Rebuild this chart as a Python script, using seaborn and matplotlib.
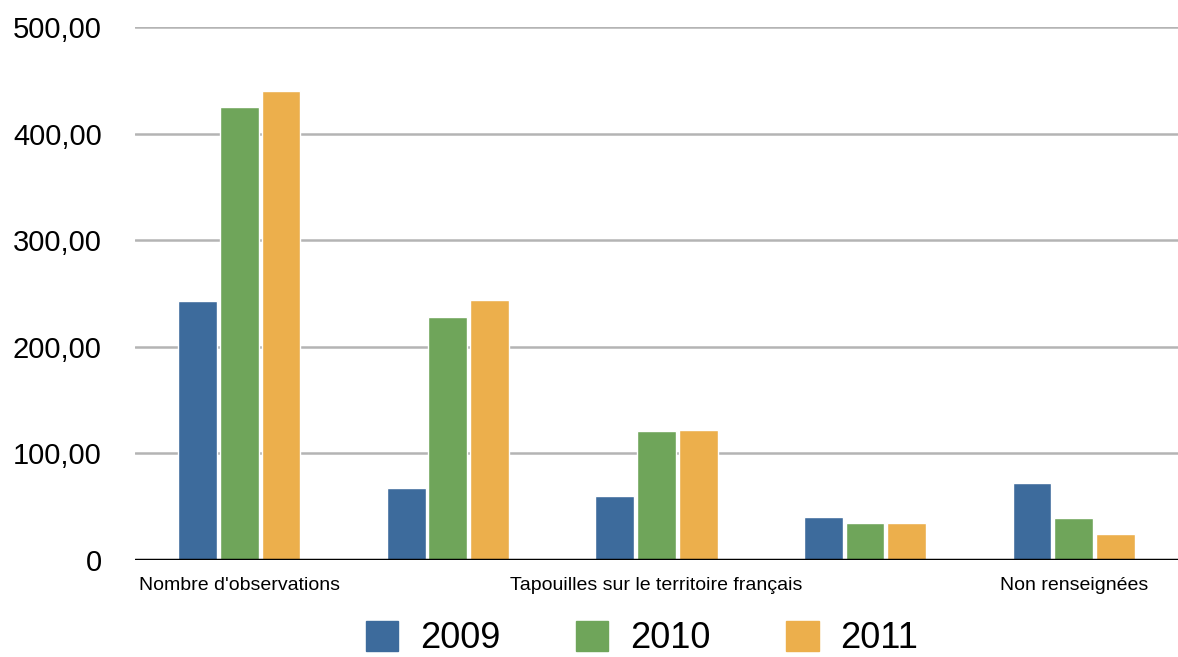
import pandas as pd
import seaborn as sns
import matplotlib.pyplot as plt
from matplotlib.ticker import FuncFormatter

# valeurs
groups = ["g1", "g2", "g3", "g4", "g5"]
tick_labels = ["Nombre d'observations", "", "Tapouilles sur le territoire français", "", "Non renseignées"]
years = ["2009", "2010", "2011"]
v2009 = [243, 68, 60, 40, 72]
v2010 = [425, 228, 121, 35, 39]
v2011 = [440, 244, 122, 35, 24]
colors = ["#3d6b9c", "#6fa55a", "#ecaf4c"]

rows = []
for year, vals in zip(years, [v2009, v2010, v2011]):
    for g, v in zip(groups, vals):
        rows.append({"groupe": g, "annee": year, "valeur": v})
df = pd.DataFrame(rows)

sns.set_style("white")
plt.rcParams['font.family'] = ['Liberation Sans', 'DejaVu Sans']
plt.rcParams['text.color'] = 'black'
plt.rcParams['xtick.color'] = 'black'
plt.rcParams['ytick.color'] = 'black'

fig = plt.figure(figsize=(11.78, 6.57), dpi=100)
ax = fig.add_axes([0.1146, 0.1476, 0.8854, 0.8114])

sns.barplot(data=df, x="groupe", y="valeur", hue="annee", order=groups, hue_order=years,
            palette=colors, width=0.6, gap=0.07, saturation=1, ax=ax, legend=False)

ax.set_ylim(0, 500)
ax.set_xlim(-0.5, 4.5)
ax.set_yticks([0, 100, 200, 300, 400, 500])
ax.yaxis.set_major_formatter(FuncFormatter(lambda v, p: "0" if v == 0 else f"{v:.2f}".replace(".", ",")))
ax.grid(axis="y", color="#b4b4b4", linewidth=1.8)
ax.set_axisbelow(True)
for s in ["top", "right", "left", "bottom"]:
    ax.spines[s].set_visible(False)
ax.axhline(0, color="black", linewidth=2.5, zorder=5)

ax.set_xticks(range(len(groups)))
ax.set_xticklabels(tick_labels, fontsize=14)
ax.tick_params(axis="x", length=0, pad=12)
ax.tick_params(axis="y", length=0, pad=24, labelsize=21)
ax.set_xlabel("")
ax.set_ylabel("")

handles = [plt.Rectangle((0, 0), 1, 1, color=c) for c in colors]
fig.legend(handles, years, loc="upper center", bbox_to_anchor=(0.545, 0.055), ncol=3, frameon=False,
           prop={"size": 26},
           handlelength=0.9, handleheight=0.9, handletextpad=0.6, columnspacing=2.1,
           borderaxespad=0, borderpad=0)

fig.savefig("out.png", dpi=100)
